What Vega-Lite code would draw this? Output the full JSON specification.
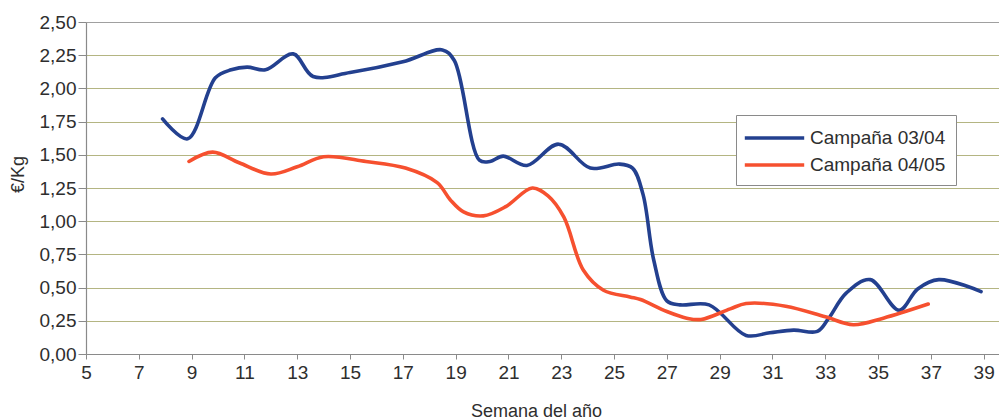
{
  "$schema": "https://vega.github.io/schema/vega-lite/v6.json",
  "autosize": {"type": "none"},
  "padding": {"left": 86, "top": 22, "right": 0, "bottom": 66},
  "width": 913,
  "height": 332,
  "background": "white",
  "config": {
    "view": {"stroke": null},
    "font": "Liberation Sans",
    "axis": {"labelFont": "Liberation Sans", "titleFont": "Liberation Sans"}
  },
  "datasets": {
    "precios": [
      {"semana": 7.9, "precio": 1.77, "campana": "Campaña 03/04"},
      {"semana": 8.85, "precio": 1.62, "campana": "Campaña 03/04"},
      {"semana": 9.9, "precio": 2.08, "campana": "Campaña 03/04"},
      {"semana": 10.5, "precio": 2.14, "campana": "Campaña 03/04"},
      {"semana": 11.1, "precio": 2.16, "campana": "Campaña 03/04"},
      {"semana": 11.8, "precio": 2.14, "campana": "Campaña 03/04"},
      {"semana": 12.85, "precio": 2.26, "campana": "Campaña 03/04"},
      {"semana": 13.6, "precio": 2.09, "campana": "Campaña 03/04"},
      {"semana": 15.0, "precio": 2.12, "campana": "Campaña 03/04"},
      {"semana": 17.0, "precio": 2.2, "campana": "Campaña 03/04"},
      {"semana": 18.5, "precio": 2.29, "campana": "Campaña 03/04"},
      {"semana": 18.95, "precio": 2.21, "campana": "Campaña 03/04"},
      {"semana": 19.9, "precio": 1.46, "campana": "Campaña 03/04"},
      {"semana": 20.3, "precio": 1.45, "campana": "Campaña 03/04"},
      {"semana": 20.8, "precio": 1.49, "campana": "Campaña 03/04"},
      {"semana": 21.7, "precio": 1.42, "campana": "Campaña 03/04"},
      {"semana": 22.9, "precio": 1.58, "campana": "Campaña 03/04"},
      {"semana": 24.1, "precio": 1.4, "campana": "Campaña 03/04"},
      {"semana": 25.2, "precio": 1.43, "campana": "Campaña 03/04"},
      {"semana": 25.7, "precio": 1.4, "campana": "Campaña 03/04"},
      {"semana": 26.1, "precio": 1.2, "campana": "Campaña 03/04"},
      {"semana": 26.5, "precio": 0.71, "campana": "Campaña 03/04"},
      {"semana": 27.0, "precio": 0.4, "campana": "Campaña 03/04"},
      {"semana": 27.5, "precio": 0.37, "campana": "Campaña 03/04"},
      {"semana": 28.6, "precio": 0.37, "campana": "Campaña 03/04"},
      {"semana": 30.0, "precio": 0.14, "campana": "Campaña 03/04"},
      {"semana": 30.9, "precio": 0.16, "campana": "Campaña 03/04"},
      {"semana": 31.8, "precio": 0.18, "campana": "Campaña 03/04"},
      {"semana": 32.7, "precio": 0.17, "campana": "Campaña 03/04"},
      {"semana": 33.1, "precio": 0.26, "campana": "Campaña 03/04"},
      {"semana": 33.8, "precio": 0.46, "campana": "Campaña 03/04"},
      {"semana": 34.7, "precio": 0.56, "campana": "Campaña 03/04"},
      {"semana": 35.8, "precio": 0.33, "campana": "Campaña 03/04"},
      {"semana": 36.5, "precio": 0.49, "campana": "Campaña 03/04"},
      {"semana": 37.3, "precio": 0.56, "campana": "Campaña 03/04"},
      {"semana": 38.9, "precio": 0.47, "campana": "Campaña 03/04"},

      {"semana": 8.9, "precio": 1.45, "campana": "Campaña 04/05"},
      {"semana": 9.8, "precio": 1.52, "campana": "Campaña 04/05"},
      {"semana": 10.8, "precio": 1.44, "campana": "Campaña 04/05"},
      {"semana": 12.0, "precio": 1.355, "campana": "Campaña 04/05"},
      {"semana": 13.0, "precio": 1.41, "campana": "Campaña 04/05"},
      {"semana": 14.0, "precio": 1.485, "campana": "Campaña 04/05"},
      {"semana": 15.6, "precio": 1.45, "campana": "Campaña 04/05"},
      {"semana": 17.1, "precio": 1.4, "campana": "Campaña 04/05"},
      {"semana": 18.3, "precio": 1.29, "campana": "Campaña 04/05"},
      {"semana": 18.8, "precio": 1.16, "campana": "Campaña 04/05"},
      {"semana": 19.3, "precio": 1.07, "campana": "Campaña 04/05"},
      {"semana": 20.05, "precio": 1.04, "campana": "Campaña 04/05"},
      {"semana": 20.9, "precio": 1.11, "campana": "Campaña 04/05"},
      {"semana": 21.9, "precio": 1.25, "campana": "Campaña 04/05"},
      {"semana": 22.5, "precio": 1.19, "campana": "Campaña 04/05"},
      {"semana": 23.1, "precio": 1.03, "campana": "Campaña 04/05"},
      {"semana": 23.84, "precio": 0.63, "campana": "Campaña 04/05"},
      {"semana": 24.6, "precio": 0.48, "campana": "Campaña 04/05"},
      {"semana": 25.6, "precio": 0.43, "campana": "Campaña 04/05"},
      {"semana": 26.0, "precio": 0.41, "campana": "Campaña 04/05"},
      {"semana": 27.0, "precio": 0.32, "campana": "Campaña 04/05"},
      {"semana": 27.75, "precio": 0.27, "campana": "Campaña 04/05"},
      {"semana": 28.3, "precio": 0.26, "campana": "Campaña 04/05"},
      {"semana": 29.4, "precio": 0.34, "campana": "Campaña 04/05"},
      {"semana": 30.0, "precio": 0.38, "campana": "Campaña 04/05"},
      {"semana": 31.5, "precio": 0.36, "campana": "Campaña 04/05"},
      {"semana": 33.0, "precio": 0.28, "campana": "Campaña 04/05"},
      {"semana": 34.06, "precio": 0.22, "campana": "Campaña 04/05"},
      {"semana": 35.2, "precio": 0.27, "campana": "Campaña 04/05"},
      {"semana": 36.9, "precio": 0.376, "campana": "Campaña 04/05"}
    ]
  },
  "data": {"name": "precios"},
  "mark": {"type": "line", "interpolate": "catmull-rom", "strokeWidth": 3.6, "strokeCap": "round", "strokeJoin": "round"},
  "encoding": {
    "x": {
      "field": "semana",
      "type": "quantitative",
      "scale": {"domain": [5, 39.58], "nice": false, "zero": false},
      "axis": {
        "values": [5, 7, 9, 11, 13, 15, 17, 19, 21, 23, 25, 27, 29, 31, 33, 35, 37, 39],
        "grid": false,
        "domainColor": "#8a8a8a",
        "domainWidth": 1.2,
        "tickColor": "#8a8a8a",
        "tickSize": 5,
        "labelFontSize": 19,
        "labelColor": "#2e2e2e",
        "labelPadding": 4,
        "labelFlush": false,
        "title": "Semana del año",
        "titleFontSize": 18,
        "titleFontWeight": "normal",
        "titleColor": "#2e2e2e",
        "titleX": 450,
        "titleY": 57,
        "titleAlign": "center",
        "titleBaseline": "middle"
      }
    },
    "y": {
      "field": "precio",
      "type": "quantitative",
      "scale": {"domain": [0, 2.5], "nice": false},
      "axis": {
        "values": [0, 0.25, 0.5, 0.75, 1, 1.25, 1.5, 1.75, 2, 2.25, 2.5],
        "labelExpr": "replace(format(datum.value, '.2f'), '.', ',')",
        "grid": true,
        "gridColor": {"condition": {"test": "datum.value >= 2.5", "value": "#a0a0a0"}, "value": "#b4b582"},
        "gridWidth": 1.2,
        "domainColor": "#8a8a8a",
        "domainWidth": 1.2,
        "tickColor": "#8a8a8a",
        "tickSize": 8,
        "labelFontSize": 19,
        "labelColor": "#2e2e2e",
        "labelPadding": 2,
        "labelFlush": false,
        "title": "€/Kg",
        "titleFontSize": 18,
        "titleFontWeight": "normal",
        "titleColor": "#2e2e2e",
        "titleX": -68,
        "titleY": 152,
        "titleAlign": "center",
        "titleBaseline": "middle",
        "titleAngle": -90
      }
    },
    "color": {
      "field": "campana",
      "type": "nominal",
      "scale": {"domain": ["Campaña 03/04", "Campaña 04/05"], "range": ["#23408f", "#f6502f"]},
      "legend": {
        "title": null,
        "orient": "none",
        "legendX": 650,
        "legendY": 93,
        "fillColor": "white",
        "strokeColor": "#8a8a8a",
        "padding": 10,
        "rowPadding": 4,
        "symbolType": "M-2.7,0L2.7,0",
        "symbolSize": 484,
        "symbolStrokeWidth": 3.6,
        "symbolOffset": 15.5,
        "labelOffset": 22.5,
        "labelFontSize": 19,
        "labelColor": "#2e2e2e",
        "labelFont": "Liberation Sans"
      }
    }
  }
}
